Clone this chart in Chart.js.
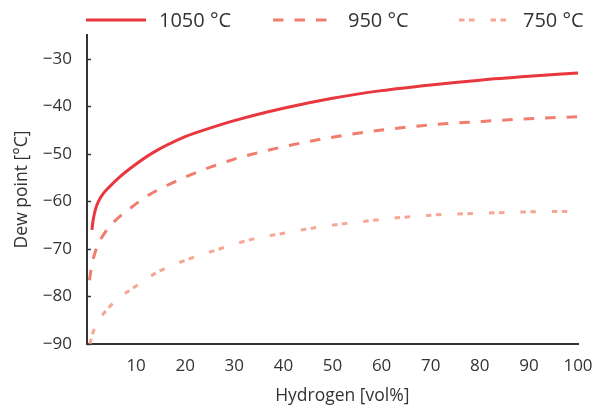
<!DOCTYPE html>
<html>
<head>
<meta charset="utf-8">
<title>Dew point vs hydrogen</title>
<script src="https://cdn.jsdelivr.net/npm/chart.js@4.4.1/dist/chart.umd.min.js"></script>
<style>
  html, body { margin: 0; padding: 0; background: #fff; }
  #wrap { width: 595px; height: 409px; position: relative; }
</style>
</head>
<body>
<div id="wrap"><canvas id="chart"></canvas></div>
<script>
// Furnace temperatures shown as separate curves
const seriesLabels = ['1050 °C', '950 °C', '750 °C'];

// Hydrogen content [vol%] and dew point [°C] for each temperature
const hydrogen1050 = [1, 1.2, 1.5, 2, 2.7, 3.5, 4.5, 6.4, 9.8, 13.2, 20, 25, 30, 40, 50, 60, 70, 80, 90, 100];
const dew1050      = [-66, -64.3, -62.6, -60.8, -59.3, -58.1, -57.0, -55.1, -52.3, -49.9, -46.4, -44.6, -43.0, -40.4, -38.3, -36.7, -35.5, -34.5, -33.7, -33.0];

const hydrogen950  = [0.5, 0.8, 1.1, 1.6, 2.2, 3, 4.2, 5.7, 9.1, 12.5, 16.6, 21.3, 25.4, 30, 40, 50, 60, 70, 80, 90, 100];
const dew950       = [-76.6, -74.5, -72.8, -70.9, -69.2, -67.6, -65.8, -64.1, -61.2, -58.7, -56.5, -54.3, -52.7, -51.1, -48.5, -46.5, -45.0, -43.9, -43.2, -42.6, -42.2];

const hydrogen750  = [0.6, 0.9, 1.6, 2.3, 3.3, 4.5, 5.7, 8.1, 10, 14.5, 20, 26.7, 33.5, 40, 46.1, 59, 70, 80, 90, 100];
const dew750       = [-90, -88.7, -86.5, -85.1, -83.7, -82.3, -81.0, -79.1, -77.8, -74.8, -72.4, -70.1, -68.0, -66.7, -65.6, -63.9, -62.9, -62.5, -62.2, -62.1];

// Axis tick labels
const xTickValues = [10, 20, 30, 40, 50, 60, 70, 80, 90, 100];
const yTickValues = [-90, -80, -70, -60, -50, -40, -30];

// Axis titles
const xTitle = 'Hydrogen [vol%]';
const yTitle = 'Dew point [°C]';

const FONT = '"Open Sans", sans-serif';
const INK = '#333333';

const toPoints = (xs, ys) => xs.map((x, i) => ({ x, y: ys[i] }));
const fmtMinus = v => (v < 0 ? '\u2212' + Math.abs(v) : String(v));

// Legend drawn as line samples followed by their labels
const lineLegend = {
  id: 'lineLegend',
  afterDraw(chart) {
    const slots = [
      { x: 86, len: 60, text: 159 },
      { x: 273, len: 54, text: 348 },
      { x: 459, len: 48, text: 523 }
    ];
    const ctx = chart.ctx;
    const y = 20;
    chart.data.datasets.forEach((ds, i) => {
      const s = slots[i];
      ctx.save();
      ctx.strokeStyle = ds.borderColor;
      ctx.lineWidth = ds.borderWidth;
      ctx.lineCap = 'butt';
      ctx.setLineDash(ds.borderDash || []);
      ctx.beginPath();
      ctx.moveTo(s.x, y);
      ctx.lineTo(s.x + s.len, y);
      ctx.stroke();
      ctx.setLineDash([]);
      ctx.fillStyle = INK;
      ctx.font = '20px ' + FONT;
      ctx.textBaseline = 'middle';
      ctx.textAlign = 'left';
      ctx.fillText(ds.label, s.text, y + 1);
      ctx.restore();
    });
  }
};

// Short inward tick marks on the value axis, and the horizontal axis title
const axisExtras = {
  id: 'axisExtras',
  afterDraw(chart) {
    const ys = chart.scales.y;
    const ctx = chart.ctx;
    const left = chart.chartArea.left;
    ctx.save();
    ctx.strokeStyle = INK;
    ctx.lineWidth = 1.5;
    ys.ticks.forEach(t => {
      const py = Math.round(ys.getPixelForValue(t.value)) + 0.5;
      ctx.beginPath();
      ctx.moveTo(left, py);
      ctx.lineTo(left + 4, py);
      ctx.stroke();
    });
    ctx.fillStyle = INK;
    ctx.font = '17.5px ' + FONT;
    ctx.textAlign = 'center';
    ctx.textBaseline = 'middle';
    ctx.fillText(xTitle, chart.scales.x.getPixelForValue(52), 396);
    ctx.restore();
  }
};

const common = { fill: false, pointRadius: 0, pointHoverRadius: 0, tension: 0.4, cubicInterpolationMode: 'monotone', clip: false };

new Chart(document.getElementById('chart'), {
  type: 'line',
  data: {
    datasets: [
      Object.assign({ label: seriesLabels[0], data: toPoints(hydrogen1050, dew1050),
        borderColor: 'rgb(232,55,62)', borderWidth: 3, borderDash: [] }, common),
      Object.assign({ label: seriesLabels[1], data: toPoints(hydrogen950, dew950),
        borderColor: 'rgb(240,125,110)', borderWidth: 3, borderDash: [10.5, 11] }, common),
      Object.assign({ label: seriesLabels[2], data: toPoints(hydrogen750, dew750),
        borderColor: 'rgb(247,165,148)', borderWidth: 3, borderDash: [5.5, 4.5, 5.5, 16] }, common)
    ]
  },
  options: {
    responsive: true,
    maintainAspectRatio: false,
    animation: false,
    devicePixelRatio: 1,
    layout: { padding: { top: 35, right: 17, left: 0, bottom: 0 } },
    plugins: { legend: { display: false }, tooltip: { enabled: false } },
    scales: {
      x: {
        type: 'linear',
        min: 0,
        max: 100,
        afterBuildTicks: s => { s.ticks = xTickValues.map(v => ({ value: v })); },
        afterFit: s => { s.height = 65; s.paddingLeft = 0; s.paddingRight = 0; },
        grid: { display: false, drawTicks: false },
        border: { display: true, color: INK, width: 2 },
        ticks: { color: INK, font: { family: FONT, size: 17 }, padding: 12, maxRotation: 0, autoSkip: false },
        title: { display: false }
      },
      y: {
        type: 'linear',
        min: -90,
        max: -25,
        afterBuildTicks: s => { s.ticks = yTickValues.map(v => ({ value: v })); },
        afterFit: s => { s.width = 87; s.paddingTop = 0; s.paddingBottom = 0; },
        grid: { display: false, drawTicks: false },
        border: { display: true, color: INK, width: 2 },
        ticks: { color: INK, font: { family: FONT, size: 17 }, padding: 15, callback: fmtMinus, autoSkip: false },
        title: { display: true, text: yTitle, color: INK, font: { family: FONT, size: 17.5 }, padding: { top: 12, bottom: 0 } }
      }
    }
  },
  plugins: [lineLegend, axisExtras]
});
</script>
</body>
</html>
